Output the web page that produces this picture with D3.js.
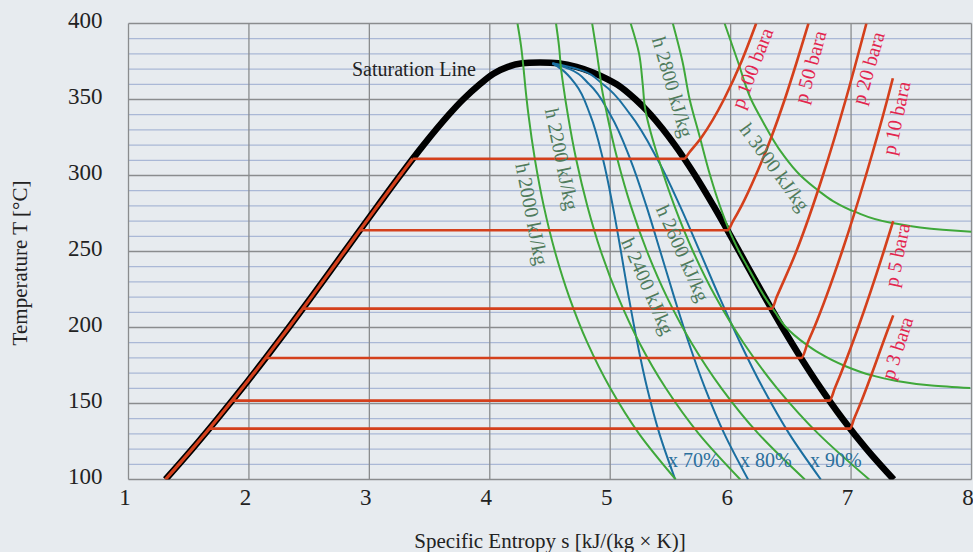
<!DOCTYPE html>
<html>
<head>
<meta charset="utf-8">
<script src="https://cdn.jsdelivr.net/npm/d3@7"></script>
<style>
  body { margin: 0; background: #e7ebef; }
  svg { display: block; font-family: "Liberation Serif", serif; }
</style>
</head>
<body>
<div id="chart"></div>
<script>
// axis ticks
const xTicks = [1, 2, 3, 4, 5, 6, 7, 8];
const yTicks = [100, 150, 200, 250, 300, 350, 400];

// saturation dome [s, T]
const satLine = [[1.307,100],[1.528,120],[1.739,140],[1.943,160],[2.139,180],[2.331,200],[2.518,220],
  [2.702,240],[2.885,260],[3.069,280],[3.255,300],[3.449,320],[3.660,340],[3.778,350],[3.917,360],
  [4.03,367],[4.15,371.5],[4.27,373.8],[4.42,374.3],[4.57,373.8],[4.72,371.5],[4.85,368],[5.054,360],
  [5.211,350],[5.336,340],[5.537,320],[5.706,300],[5.858,280],[6.002,260],[6.142,240],[6.284,220],
  [6.430,200],[6.584,180],[6.749,160],[6.929,140],[7.129,120],[7.354,100]];

// compressed liquid part of the isobars (lies on the liquid line)
const liquidIsobar = [[1.307,100],[1.528,120],[1.739,140],[1.943,160],[2.139,180],[2.331,200],
  [2.518,220],[2.702,240],[2.885,260],[3.069,280],[3.255,300],[3.360,311]];

// isobars: evaporation + superheated
const p100 = [[3.360,311],[5.614,311],[5.655,315],[5.757,325],[5.944,350],[6.09,375],[6.212,400]];
const p50 = [[2.920,264],[5.973,264],[6.02,270],[6.09,280],[6.208,300],[6.337,325],[6.449,350],[6.55,375],[6.646,400]];
const p20 = [[2.447,212.4],[6.341,212.4],[6.382,220],[6.545,250],[6.766,300],[6.956,350],[7.127,400]];
const p10 = [[2.139,179.9],[6.587,179.9],[6.64,190],[6.694,200],[6.925,250],[7.123,300],[7.301,350],[7.347,364]];
const p5 = [[1.861,151.9],[6.821,151.9],[6.865,160],[7.059,200],[7.271,250],[7.35,270]];
const p3 = [[1.672,133.5],[6.992,133.5],[7.025,140],[7.078,150],[7.312,200],[7.35,208]];
const isobarNames = ['p 100 bara', 'p 50 bara', 'p 20 bara', 'p 10 bara', 'p 5 bara', 'p 3 bara'];

// lines of constant quality
const x70 = [[5.540,100],[5.409,130],[5.307,160],[5.225,190],[5.154,220],[5.089,250],[5.021,280],[4.942,310],[4.833,340],[4.713,360],[4.594,370],[4.52,373.8]];
const x80 = [[6.145,100],[5.948,130],[5.788,160],[5.652,190],[5.531,220],[5.416,250],[5.300,280],[5.170,310],[5.001,340],[4.826,360],[4.663,370],[4.52,373.8]];
const x90 = [[6.749,100],[6.487,130],[6.269,160],[6.079,190],[5.907,220],[5.744,250],[5.579,280],[5.397,310],[5.168,340],[4.940,360],[4.732,370],[4.52,373.8]];
const qualityNames = ['x 70%', 'x 80%', 'x 90%'];

// lines of constant enthalpy
const h2000 = [[5.544,100],[5.240,130],[5.001,160],[4.810,190],[4.660,220],[4.541,250],[4.448,280],[4.376,310],[4.321,340],[4.293,360],[4.281,370],[4.26,385],[4.23,400]];
const h2200 = [[6.080,100],[5.736,130],[5.462,160],[5.242,190],[5.066,220],[4.923,250],[4.810,280],[4.719,310],[4.648,340],[4.609,360],[4.592,370],[4.575,385],[4.55,400]];
const h2400 = [[6.616,100],[6.232,130],[5.924,160],[5.674,190],[5.471,220],[5.306,250],[5.171,280],[5.062,310],[4.974,340],[4.925,360],[4.915,366],[4.89,380],[4.85,400]];
const h2600 = [[7.151,100],[6.729,130],[6.386,160],[6.106,190],[5.876,220],[5.688,250],[5.533,280],[5.405,310],[5.300,340],[5.29,344],[5.27,360],[5.24,380],[5.17,400]];
const h2800 = [[7.99,160.2],[7.67,161.9],[7.35,165.3],[7.17,168.6],[6.94,175],[6.73,183.4],[6.63,188.7],[6.45,201],[6.37,210],[6.284,220],[6.21,230],[6.14,240],[6.07,250],[5.98,265.5],[5.915,279],[5.83,300],[5.745,325],[5.66,350],[5.60,375],[5.52,400]];
const h3000 = [[8.0,263],[7.76,264.3],[7.34,268.8],[7.03,276.2],[6.85,283.2],[6.73,290],[6.58,300],[6.428,314.5],[6.262,336.2],[6.17,350],[6.06,375],[5.95,400]];
const enthalpyNames = ['h 2000 kJ/kg', 'h 2200 kJ/kg', 'h 2400 kJ/kg', 'h 2600 kJ/kg', 'h 2800 kJ/kg', 'h 3000 kJ/kg'];

// label placement in data units [s, T, angle]
const isobarLabelPos = [[6.177,370.7,-69],[6.659,371.4,-74.5],[7.141,370.7,-74],[7.373,337.8,-78],[7.381,247.7,-78.5],[7.381,186.5,-72]];
const enthalpyLabelPos = [[4.351,274.7,79],[4.600,310.9,78.4],[5.314,227.3,66.3],[5.604,249.0,66],[5.521,358.2,73.8],[6.368,305.6,53.7]];
const qualityLabelPos = [[5.480,108.2],[6.078,108.2],[6.659,108.2]];

const width = 973, height = 552;

const x = d3.scaleLinear().domain([1, 8]).range([128.5, 971.5]);
const y = d3.scaleLinear().domain([100, 400]).range([479.5, 23.5]);

const svg = d3.select('#chart').append('svg')
    .attr('width', width)
    .attr('height', height);

svg.append('rect').attr('width', width).attr('height', height).attr('fill', '#e7ebef');

svg.append('clipPath').attr('id', 'plotClip')
    .append('rect')
    .attr('x', x(1)).attr('y', y(400))
    .attr('width', x(8) - x(1)).attr('height', y(100) - y(400));

// grid
const grid = svg.append('g');
grid.selectAll('.minor')
    .data(d3.range(110, 400, 10).filter(t => t % 50 !== 0))
    .enter().append('line')
    .attr('x1', x(1)).attr('x2', x(8))
    .attr('y1', d => y(d)).attr('y2', d => y(d))
    .attr('stroke', '#aab8d6').attr('stroke-width', 1.3);
grid.selectAll('.hmajor')
    .data(yTicks)
    .enter().append('line')
    .attr('x1', x(1)).attr('x2', x(8))
    .attr('y1', d => y(d)).attr('y2', d => y(d))
    .attr('stroke', '#8a8c8e').attr('stroke-width', 1.3);
grid.selectAll('.vmajor')
    .data(xTicks)
    .enter().append('line')
    .attr('x1', d => x(d)).attr('x2', d => x(d))
    .attr('y1', y(400)).attr('y2', y(100))
    .attr('stroke', '#8a8c8e').attr('stroke-width', 1.3);

// axes (labels only)
const xAxis = svg.append('g')
    .attr('transform', 'translate(0,' + y(100) + ')')
    .call(d3.axisBottom(x).tickValues(xTicks).tickSize(0).tickPadding(9).tickFormat(d3.format('d')));
const yAxis = svg.append('g')
    .attr('transform', 'translate(' + x(1) + ',0)')
    .call(d3.axisLeft(y).tickValues(yTicks).tickSize(0).tickPadding(26).tickFormat(d3.format('d')));
[xAxis, yAxis].forEach(a => {
    a.select('.domain').remove();
    a.selectAll('text')
        .attr('font-family', '"Liberation Serif", serif')
        .attr('font-size', 23)
        .attr('fill', '#222');
});
xAxis.selectAll('text').attr('dx', -4);
yAxis.selectAll('text').attr('dy', 4);

// curves
const plot = svg.append('g').attr('clip-path', 'url(#plotClip)');
const lineXY = d3.line().x(d => x(d[0])).y(d => y(d[1]));

plot.append('path')
    .attr('d', lineXY.curve(d3.curveCatmullRom.alpha(0.5))(satLine))
    .attr('fill', 'none').attr('stroke', '#000').attr('stroke-width', 6.5)
    .attr('stroke-linejoin', 'round');

plot.append('path')
    .attr('d', lineXY.curve(d3.curveCatmullRom.alpha(0.5))(liquidIsobar))
    .attr('fill', 'none').attr('stroke', '#d4401c').attr('stroke-width', 3.2);

const lineT = d3.line().x(d => x(d[0])).y(d => y(d[1])).curve(d3.curveMonotoneY);

plot.selectAll('.quality')
    .data([x70, x80, x90])
    .enter().append('path')
    .attr('d', d => lineT(d.slice().sort((a, b) => a[1] - b[1])))
    .attr('fill', 'none').attr('stroke', '#1b6fa0').attr('stroke-width', 2);

plot.selectAll('.enthalpy')
    .data([h2000, h2200, h2400, h2600, h2800, h3000])
    .enter().append('path')
    .attr('d', d => lineT(d.slice().sort((a, b) => a[1] - b[1])))
    .attr('fill', 'none').attr('stroke', '#3fa83a').attr('stroke-width', 2);

const lineS = d3.line().x(d => x(d[0])).y(d => y(d[1])).curve(d3.curveMonotoneX);
plot.selectAll('.isobar')
    .data([p100, p50, p20, p10, p5, p3])
    .enter().append('path')
    .attr('d', d => lineS(d))
    .attr('fill', 'none').attr('stroke', '#d4401c').attr('stroke-width', 2.6);

// labels
const labels = svg.append('g').attr('font-family', '"Liberation Serif", serif');

labels.append('text')
    .attr('x', x(2.856)).attr('y', y(365.5))
    .attr('font-size', 20).attr('fill', '#222')
    .text('Saturation Line');

labels.selectAll('.hlab')
    .data(enthalpyNames)
    .enter().append('text')
    .attr('transform', (d, i) => 'translate(' + x(enthalpyLabelPos[i][0]) + ',' + y(enthalpyLabelPos[i][1]) + ') rotate(' + enthalpyLabelPos[i][2] + ')')
    .attr('text-anchor', 'middle').attr('dominant-baseline', 'central')
    .attr('font-size', 20).attr('fill', '#4f7b5c')
    .text(d => d);

labels.selectAll('.plab')
    .data(isobarNames)
    .enter().append('text')
    .attr('transform', (d, i) => 'translate(' + x(isobarLabelPos[i][0]) + ',' + y(isobarLabelPos[i][1]) + ') rotate(' + isobarLabelPos[i][2] + ')')
    .attr('text-anchor', 'middle').attr('dominant-baseline', 'central')
    .attr('font-size', 20).attr('fill', '#e3254e')
    .text(d => d);

labels.selectAll('.xlab')
    .data(qualityNames)
    .enter().append('text')
    .attr('x', (d, i) => x(qualityLabelPos[i][0]))
    .attr('y', (d, i) => y(qualityLabelPos[i][1]))
    .attr('font-size', 20).attr('fill', '#2b6f9c')
    .text(d => d);

// axis titles
svg.append('text')
    .attr('x', 550).attr('y', 548)
    .attr('text-anchor', 'middle')
    .attr('font-size', 21).attr('fill', '#222')
    .text('Specific Entropy s [kJ/(kg \u00d7 K)]');

svg.append('text')
    .attr('transform', 'translate(27,263) rotate(-90)')
    .attr('text-anchor', 'middle')
    .attr('font-size', 21).attr('fill', '#222')
    .text('Temperature T [\u00b0C]');
</script>
</body>
</html>
